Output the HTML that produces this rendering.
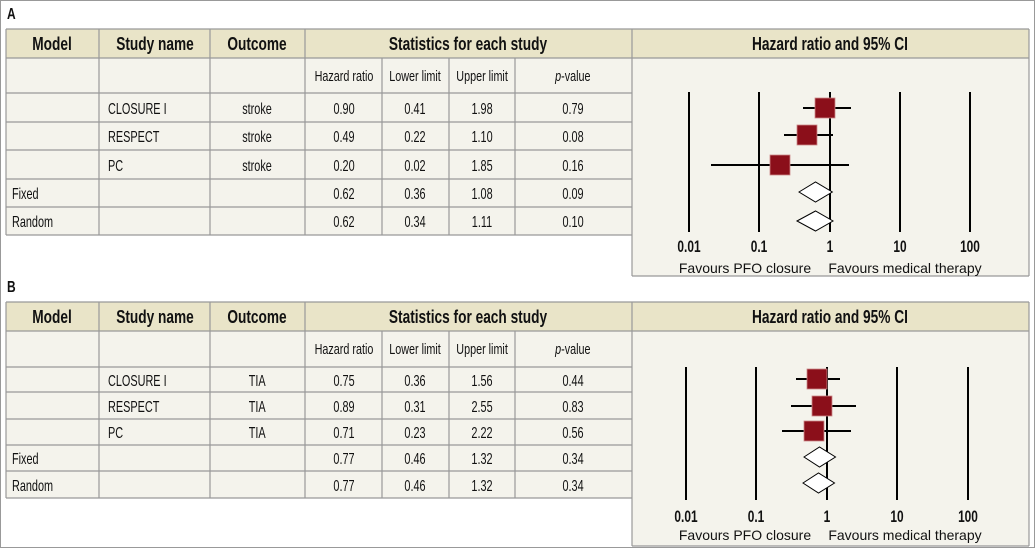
<!DOCTYPE html>
<html><head><meta charset="utf-8"><style>
html,body{margin:0;padding:0;background:#fff}
svg{display:block}
text{font-family:"Liberation Sans",sans-serif;transform-box:fill-box;transform-origin:center}
.h{font-size:18.5px;font-weight:bold;fill:#111;transform:scaleX(0.74)}
.s{font-size:15px;fill:#111;transform:scaleX(0.72)}
.b{font-size:16px;fill:#111;transform:scaleX(0.68)}
.lft{transform-origin:left}
.t{font-size:17px;font-weight:bold;fill:#111;transform:scaleX(0.7)}
.f{font-size:14px;fill:#111}
.l{font-size:16px;font-weight:bold;fill:#111;transform:scaleX(0.75);transform-origin:left}
</style></head><body>
<svg width="1035" height="548" viewBox="0 0 1035 548" xmlns="http://www.w3.org/2000/svg">
<rect x="0.5" y="0.5" width="1034" height="547" fill="#fff" stroke="#999"/>

<!-- PANEL A -->
<text x="7" y="19" class="l">A</text>
<g>
<rect x="6" y="29" width="1023" height="29" fill="#e9e4c8"/>
<rect x="6" y="58" width="626" height="177" fill="#f4f3ec"/>
<rect x="632" y="58" width="397" height="218" fill="#f4f3ec"/>
<g stroke="#999" stroke-width="1.2" fill="none">
<line x1="6" y1="29" x2="1029" y2="29"/>
<line x1="6" y1="58" x2="1029" y2="58"/>
<line x1="6" y1="93" x2="632" y2="93"/>
<line x1="6" y1="122" x2="632" y2="122"/>
<line x1="6" y1="150" x2="632" y2="150"/>
<line x1="6" y1="179" x2="632" y2="179"/>
<line x1="6" y1="207" x2="632" y2="207"/>
<line x1="6" y1="235" x2="632" y2="235"/>
<line x1="6" y1="29" x2="6" y2="235"/>
<line x1="99" y1="29" x2="99" y2="235"/>
<line x1="210" y1="29" x2="210" y2="235"/>
<line x1="305" y1="29" x2="305" y2="235"/>
<line x1="382" y1="58" x2="382" y2="235"/>
<line x1="449" y1="58" x2="449" y2="235"/>
<line x1="515" y1="58" x2="515" y2="235"/>
<line x1="632" y1="29" x2="632" y2="276"/>
<line x1="1029" y1="29" x2="1029" y2="276"/>
<line x1="632" y1="276" x2="1029" y2="276"/>
</g>
<text x="52" y="50" class="h" text-anchor="middle">Model</text>
<text x="155" y="50" class="h" text-anchor="middle">Study name</text>
<text x="257" y="50" class="h" text-anchor="middle">Outcome</text>
<text x="468" y="50" class="h" text-anchor="middle">Statistics for each study</text>
<text x="830" y="50" class="h" text-anchor="middle">Hazard ratio and 95% CI</text>
<text x="344" y="81" class="s" text-anchor="middle">Hazard ratio</text>
<text x="415" y="81" class="s" text-anchor="middle">Lower limit</text>
<text x="482" y="81" class="s" text-anchor="middle">Upper limit</text>
<text x="573" y="81" class="s" text-anchor="middle"><tspan font-style="italic">p</tspan>-value</text>
<text x="108" y="114" class="b lft">CLOSURE I</text><text x="257" y="114" class="b" text-anchor="middle">stroke</text>
<text x="344" y="114" class="b" text-anchor="middle">0.90</text><text x="415" y="114" class="b" text-anchor="middle">0.41</text><text x="482" y="114" class="b" text-anchor="middle">1.98</text><text x="573" y="114" class="b" text-anchor="middle">0.79</text>
<text x="108" y="142" class="b lft">RESPECT</text><text x="257" y="142" class="b" text-anchor="middle">stroke</text>
<text x="344" y="142" class="b" text-anchor="middle">0.49</text><text x="415" y="142" class="b" text-anchor="middle">0.22</text><text x="482" y="142" class="b" text-anchor="middle">1.10</text><text x="573" y="142" class="b" text-anchor="middle">0.08</text>
<text x="108" y="171" class="b lft">PC</text><text x="257" y="171" class="b" text-anchor="middle">stroke</text>
<text x="344" y="171" class="b" text-anchor="middle">0.20</text><text x="415" y="171" class="b" text-anchor="middle">0.02</text><text x="482" y="171" class="b" text-anchor="middle">1.85</text><text x="573" y="171" class="b" text-anchor="middle">0.16</text>
<text x="12" y="199" class="b lft">Fixed</text>
<text x="344" y="199" class="b" text-anchor="middle">0.62</text><text x="415" y="199" class="b" text-anchor="middle">0.36</text><text x="482" y="199" class="b" text-anchor="middle">1.08</text><text x="573" y="199" class="b" text-anchor="middle">0.09</text>
<text x="12" y="227" class="b lft">Random</text>
<text x="344" y="227" class="b" text-anchor="middle">0.62</text><text x="415" y="227" class="b" text-anchor="middle">0.34</text><text x="482" y="227" class="b" text-anchor="middle">1.11</text><text x="573" y="227" class="b" text-anchor="middle">0.10</text>
<g stroke="#000" stroke-width="2">
<line x1="689" y1="92" x2="689" y2="232"/>
<line x1="759" y1="92" x2="759" y2="232"/>
<line x1="830" y1="92" x2="830" y2="232"/>
<line x1="900" y1="92" x2="900" y2="232"/>
<line x1="970" y1="92" x2="970" y2="232"/>
<line x1="803" y1="108" x2="851" y2="108"/>
<line x1="784" y1="135" x2="833" y2="135"/>
<line x1="711" y1="165" x2="849" y2="165"/>
</g>
<g fill="#8b0f1a" stroke="#c88" stroke-width="0.8">
<rect x="815" y="98" width="20" height="20"/>
<rect x="797" y="125" width="20" height="20"/>
<rect x="770" y="155" width="20" height="20"/>
</g>
<g fill="#fff" stroke="#000" stroke-width="1">
<polygon points="799,192 815.5,182 832.3,192 815.5,202"/>
<polygon points="797,221 815.5,211 833,221 815.5,231"/>
</g>
<text x="689" y="252" class="t" text-anchor="middle">0.01</text>
<text x="759" y="252" class="t" text-anchor="middle">0.1</text>
<text x="830" y="252" class="t" text-anchor="middle">1</text>
<text x="900" y="252" class="t" text-anchor="middle">10</text>
<text x="970" y="252" class="t" text-anchor="middle">100</text>
<text x="745" y="273" class="f" text-anchor="middle">Favours PFO closure</text>
<text x="905" y="273" class="f" text-anchor="middle">Favours medical therapy</text>
</g>

<!-- PANEL B -->
<text x="7" y="292" class="l">B</text>
<g>
<rect x="6" y="302" width="1023" height="29" fill="#e9e4c8"/>
<rect x="6" y="331" width="626" height="167" fill="#f4f3ec"/>
<rect x="632" y="331" width="397" height="215" fill="#f4f3ec"/>
<g stroke="#999" stroke-width="1.2" fill="none">
<line x1="6" y1="302" x2="1029" y2="302"/>
<line x1="6" y1="331" x2="1029" y2="331"/>
<line x1="6" y1="367" x2="632" y2="367"/>
<line x1="6" y1="392" x2="632" y2="392"/>
<line x1="6" y1="419" x2="632" y2="419"/>
<line x1="6" y1="445" x2="632" y2="445"/>
<line x1="6" y1="471" x2="632" y2="471"/>
<line x1="6" y1="498" x2="632" y2="498"/>
<line x1="6" y1="302" x2="6" y2="498"/>
<line x1="99" y1="302" x2="99" y2="498"/>
<line x1="210" y1="302" x2="210" y2="498"/>
<line x1="305" y1="302" x2="305" y2="498"/>
<line x1="382" y1="331" x2="382" y2="498"/>
<line x1="449" y1="331" x2="449" y2="498"/>
<line x1="515" y1="331" x2="515" y2="498"/>
<line x1="632" y1="302" x2="632" y2="546"/>
<line x1="1029" y1="302" x2="1029" y2="546"/>
<line x1="632" y1="546" x2="1029" y2="546"/>
</g>
<text x="52" y="323" class="h" text-anchor="middle">Model</text>
<text x="155" y="323" class="h" text-anchor="middle">Study name</text>
<text x="257" y="323" class="h" text-anchor="middle">Outcome</text>
<text x="468" y="323" class="h" text-anchor="middle">Statistics for each study</text>
<text x="830" y="323" class="h" text-anchor="middle">Hazard ratio and 95% CI</text>
<text x="344" y="354" class="s" text-anchor="middle">Hazard ratio</text>
<text x="415" y="354" class="s" text-anchor="middle">Lower limit</text>
<text x="482" y="354" class="s" text-anchor="middle">Upper limit</text>
<text x="573" y="354" class="s" text-anchor="middle"><tspan font-style="italic">p</tspan>-value</text>
<text x="108" y="386" class="b lft">CLOSURE I</text><text x="257" y="386" class="b" text-anchor="middle">TIA</text>
<text x="344" y="386" class="b" text-anchor="middle">0.75</text><text x="415" y="386" class="b" text-anchor="middle">0.36</text><text x="482" y="386" class="b" text-anchor="middle">1.56</text><text x="573" y="386" class="b" text-anchor="middle">0.44</text>
<text x="108" y="412" class="b lft">RESPECT</text><text x="257" y="412" class="b" text-anchor="middle">TIA</text>
<text x="344" y="412" class="b" text-anchor="middle">0.89</text><text x="415" y="412" class="b" text-anchor="middle">0.31</text><text x="482" y="412" class="b" text-anchor="middle">2.55</text><text x="573" y="412" class="b" text-anchor="middle">0.83</text>
<text x="108" y="438" class="b lft">PC</text><text x="257" y="438" class="b" text-anchor="middle">TIA</text>
<text x="344" y="438" class="b" text-anchor="middle">0.71</text><text x="415" y="438" class="b" text-anchor="middle">0.23</text><text x="482" y="438" class="b" text-anchor="middle">2.22</text><text x="573" y="438" class="b" text-anchor="middle">0.56</text>
<text x="12" y="464" class="b lft">Fixed</text>
<text x="344" y="464" class="b" text-anchor="middle">0.77</text><text x="415" y="464" class="b" text-anchor="middle">0.46</text><text x="482" y="464" class="b" text-anchor="middle">1.32</text><text x="573" y="464" class="b" text-anchor="middle">0.34</text>
<text x="12" y="491" class="b lft">Random</text>
<text x="344" y="491" class="b" text-anchor="middle">0.77</text><text x="415" y="491" class="b" text-anchor="middle">0.46</text><text x="482" y="491" class="b" text-anchor="middle">1.32</text><text x="573" y="491" class="b" text-anchor="middle">0.34</text>
<g stroke="#000" stroke-width="2">
<line x1="686" y1="367" x2="686" y2="500"/>
<line x1="756" y1="367" x2="756" y2="500"/>
<line x1="827" y1="367" x2="827" y2="500"/>
<line x1="897" y1="367" x2="897" y2="500"/>
<line x1="968" y1="367" x2="968" y2="500"/>
<line x1="796" y1="379" x2="840" y2="379"/>
<line x1="791" y1="406" x2="856" y2="406"/>
<line x1="782" y1="431" x2="851" y2="431"/>
</g>
<g fill="#8b0f1a" stroke="#c88" stroke-width="0.8">
<rect x="807" y="369" width="20" height="20"/>
<rect x="812" y="396" width="20" height="20"/>
<rect x="804" y="421" width="20" height="20"/>
</g>
<g fill="#fff" stroke="#000" stroke-width="1">
<polygon points="804,457 819.5,447 835.5,457 819.5,467"/>
<polygon points="803,483 818.5,473 834.5,483 818.5,493"/>
</g>
<text x="686" y="522" class="t" text-anchor="middle">0.01</text>
<text x="756" y="522" class="t" text-anchor="middle">0.1</text>
<text x="827" y="522" class="t" text-anchor="middle">1</text>
<text x="897" y="522" class="t" text-anchor="middle">10</text>
<text x="968" y="522" class="t" text-anchor="middle">100</text>
<text x="745" y="540" class="f" text-anchor="middle">Favours PFO closure</text>
<text x="905" y="540" class="f" text-anchor="middle">Favours medical therapy</text>
</g>
</svg>
</body></html>
